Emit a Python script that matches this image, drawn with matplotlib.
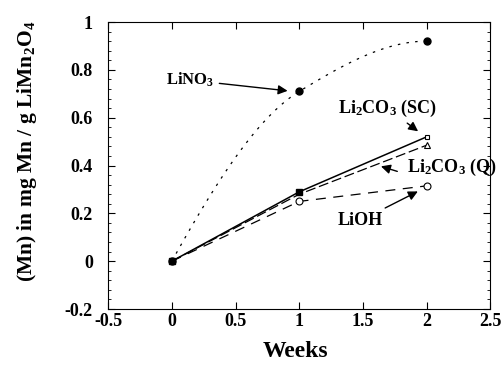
import numpy as np
import matplotlib.pyplot as plt
from matplotlib.ticker import MultipleLocator

weeks = [0, 1, 2]
lino3 = [0.0, 0.71, 0.92]
li2co3_sc = [0.0, 0.29, 0.52]
li2co3_q = [0.0, 0.28, 0.485]
lioh = [0.0, 0.25, 0.315]

plt.rcParams['font.family'] = ['Liberation Serif', 'DejaVu Serif']
plt.rcParams['font.weight'] = 'bold'
plt.rcParams['axes.labelweight'] = 'bold'
plt.rcParams['mathtext.fontset'] = 'custom'
plt.rcParams['mathtext.rm'] = 'Liberation Serif:bold'
plt.rcParams['mathtext.it'] = 'Liberation Serif:bold'
plt.rcParams['mathtext.default'] = 'rm'


def smooth(x, y, n=80):
    # monotone cubic (Fritsch-Carlson) through the points
    x = np.asarray(x, float)
    y = np.asarray(y, float)
    h = np.diff(x)
    s = np.diff(y) / h
    d = np.zeros_like(y)
    d[1:-1] = np.where(s[:-1] * s[1:] > 0, 2 / (1 / s[:-1] + 1 / s[1:]), 0)
    d[0] = max(0, ((2 * h[0] + h[1]) * s[0] - h[0] * s[1]) / (h[0] + h[1]))
    d[-1] = max(0, ((2 * h[-1] + h[-2]) * s[-1] - h[-1] * s[-2]) / (h[-1] + h[-2]))
    xs = np.linspace(x[0], x[-1], n)
    i = np.clip(np.searchsorted(x, xs) - 1, 0, len(x) - 2)
    t = (xs - x[i]) / h[i]
    h00 = 2 * t**3 - 3 * t**2 + 1
    h10 = t**3 - 2 * t**2 + t
    h01 = -2 * t**3 + 3 * t**2
    h11 = t**3 - t**2
    ys = h00 * y[i] + h10 * h[i] * d[i] + h01 * y[i + 1] + h11 * h[i] * d[i + 1]
    return xs, ys


fig = plt.figure(figsize=(5.03, 3.67), dpi=100)
ax = fig.add_axes([0.215, 0.158, 0.76, 0.782])

xs, ys = smooth(weeks, lino3)
ax.plot(xs, ys, color='k', lw=0.9, ls=(0, (2, 5)))
ax.plot(weeks, lino3, 'o', color='k', ms=5)

ax.plot(weeks, li2co3_sc, '-', color='k', lw=1.1)
ax.plot(weeks, li2co3_q, color='k', lw=0.9, ls=(0, (8, 3)))
ax.plot(weeks[2:], li2co3_q[2:], '^', mfc='white', mec='k', ms=4, mew=0.8)
ax.plot(weeks, lioh, color='k', lw=0.9, ls=(0, (8, 6)))
ax.plot(weeks[1:], lioh[1:], 'o', mfc='white', mec='k', ms=5, mew=0.8)
ax.plot(weeks[:2], li2co3_sc[:2], 's', color='k', ms=5)
ax.plot(weeks[2:], li2co3_sc[2:], 's', mfc='white', mec='k', ms=3, mew=0.8)

arrow = dict(arrowstyle='-|>', color='k', lw=1, mutation_scale=14)
ax.annotate('LiNO$_3$', xy=(0.93, 0.711), xytext=(0.14, 0.757),
            ha='center', va='center', fontsize=12, arrowprops=arrow)
ax.annotate('Li$_2$CO$_3$ (SC)', xy=(1.95, 0.536), xytext=(1.69, 0.64),
            ha='center', va='center', fontsize=13, arrowprops=arrow)
ax.annotate('', xy=(1.62, 0.40), xytext=(1.79, 0.372), arrowprops=arrow)
ax.text(2.2, 0.393, 'Li$_2$CO$_3$ (Q)', ha='center', va='center', fontsize=13)
ax.annotate('LiOH', xy=(1.95, 0.297), xytext=(1.48, 0.17),
            ha='center', va='center', fontsize=13, arrowprops=arrow)

ax.set_xlim(-0.5, 2.5)
ax.set_ylim(-0.2, 1.0)
ax.yaxis.set_minor_locator(MultipleLocator(0.04))
ax.tick_params(which='both', direction='in', top=True, right=True, labelsize=13)
ax.tick_params(which='major', length=5)
ax.tick_params(which='minor', length=2.5)
ax.tick_params(axis='y', pad=11)
ax.tick_params(axis='x', pad=3)
ax.set_xticks([-0.5, 0, 0.5, 1, 1.5, 2, 2.5])
ax.set_xticklabels(['-0.5', '0', '0.5', '1', '1.5', '2', '2.5'])
ax.set_yticks([-0.2, 0, 0.2, 0.4, 0.6, 0.8, 1])
ax.set_yticklabels(['-0.2', '0', '0.2', '0.4', '0.6', '0.8', '1'])

ax.set_xlabel('Weeks', fontsize=17)
ax.xaxis.set_label_coords(0.49, -0.11)
ax.set_ylabel('(Mn) in mg Mn / g LiMn$_2$O$_4$', fontsize=15.5)
ax.yaxis.set_label_coords(-0.18, 0.55)

fig.savefig('out.png', dpi=100)
